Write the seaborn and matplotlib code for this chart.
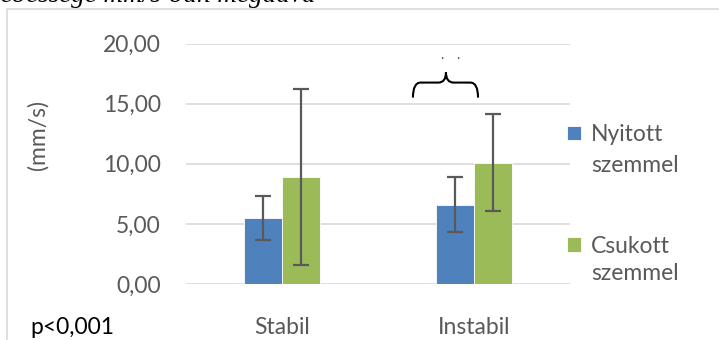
import matplotlib
matplotlib.use("Agg")
import matplotlib.pyplot as plt
import seaborn as sns
import pandas as pd
from matplotlib.path import Path
from matplotlib.patches import PathPatch, Rectangle

categories = ["Stabil", "Instabil"]
series = ["Nyitott", "Csukott"]
series_sub = "szemmel"
nyitott = [5.5, 6.6]
csukott = [8.9, 10.1]
nyitott_err = [1.8, 2.3]
csukott_err = [7.3, 4.0]
yticks = [0, 5, 10, 15, 20]
ytick_labels = ["0,00", "5,00", "10,00", "15,00", "20,00"]
colors = ["#4F81BD", "#9BBB59"]

df = pd.DataFrame({
    "cat": categories * 2,
    "series": [series[0]] * 2 + [series[1]] * 2,
    "val": nyitott + csukott,
})
errs = {series[0]: nyitott_err, series[1]: csukott_err}

sns.set_style("white")
plt.rcParams["font.family"] = ["Lato", "DejaVu Sans"]

FS = 16.5
GRAY = "#595959"
W, H = 719, 340
fig = plt.figure(figsize=(W / 100, H / 100), dpi=100)
ax = fig.add_axes([186 / W, 1 - 284 / H, (570 - 186) / W, (284 - 43.5) / H])

sns.barplot(data=df, x="cat", y="val", hue="series", palette=colors,
            errorbar=None, width=0.4, ax=ax, edgecolor="white", linewidth=0.6,
            saturation=1)

for container, s in zip(ax.containers, series):
    for rect, e in zip(container, errs[s]):
        cx = rect.get_x() + rect.get_width() / 2
        ax.errorbar(cx, rect.get_height(), yerr=e, color=GRAY, lw=1.6,
                    capsize=6, capthick=1.6, zorder=5)

ax.set_ylim(0, 20)
ax.set_xlim(-0.5, 1.5)
ax.set_yticks(yticks)
ax.set_yticklabels(ytick_labels)
ax.yaxis.grid(True, color="#D9D9D9", lw=1.2)
ax.set_axisbelow(True)
for sp in ax.spines.values():
    sp.set_visible(False)
ax.tick_params(axis="both", length=0, colors=GRAY, labelsize=FS)
ax.tick_params(axis="y", pad=18)
ax.tick_params(axis="x", pad=24)
ax.set_xlabel("")
ax.set_ylabel("")

# legend (first line of each label), second line added below
leg = ax.legend(loc="upper left", bbox_to_anchor=(567 / W, 1 - 124 / H),
                bbox_transform=fig.transFigure, frameon=False, fontsize=FS,
                handlelength=0.62, handleheight=0.62, handletextpad=0.42,
                labelspacing=3.95, borderpad=0, borderaxespad=0)
for t in leg.get_texts():
    t.set_color(GRAY)
for yy in [166, 273]:
    fig.text(591 / W, 1 - yy / H, series_sub, ha="left", va="center",
             color=GRAY, fontsize=FS)

# y axis label
fig.text(38 / W, 1 - 135 / H, "(mm/s)", rotation=90, ha="center", va="center",
         color=GRAY, fontsize=FS)

# p value
fig.text(30 / W, 1 - 328 / H, "p<0,001", ha="left", va="center",
         color="black", fontsize=FS)

# chart frame
fig.patches.append(Rectangle((7 / W, -0.1), 1.2, 1 - 9 / H + 0.1,
                             transform=fig.transFigure, fill=False,
                             edgecolor="#D9D9D9", lw=1.2))

# cut-off caption at top
fig.text(316 / W, 1 - 1.5 / H, "sebessége mm/s-ban megadva", ha="right",
         va="baseline", family="Liberation Serif", style="italic",
         fontsize=19.5, color="black")

# curly brace
x0, x1, xm = 0.682, 1.021, 0.854
yb, yf, yt = 15.5, 16.75, 17.6
r = 0.04
verts = [(x0, yb), (x0, yf), (x0 + r, yf),
         (xm - r, yf), (xm, yf), (xm, yt),
         (xm, yf), (xm + r, yf),
         (x1 - r, yf), (x1, yf), (x1, yb)]
codes = [Path.MOVETO, Path.CURVE3, Path.CURVE3,
         Path.LINETO, Path.CURVE3, Path.CURVE3,
         Path.CURVE3, Path.CURVE3,
         Path.LINETO, Path.CURVE3, Path.CURVE3]
ax.add_patch(PathPatch(Path(verts, codes), fill=False, lw=1.5,
                       edgecolor="black", clip_on=False))
for dx in [0.833, 0.917]:
    ax.text(dx, 18.75, ".", ha="center", va="baseline", fontsize=10,
            color="#404040")

fig.savefig("out.png", dpi=100)
